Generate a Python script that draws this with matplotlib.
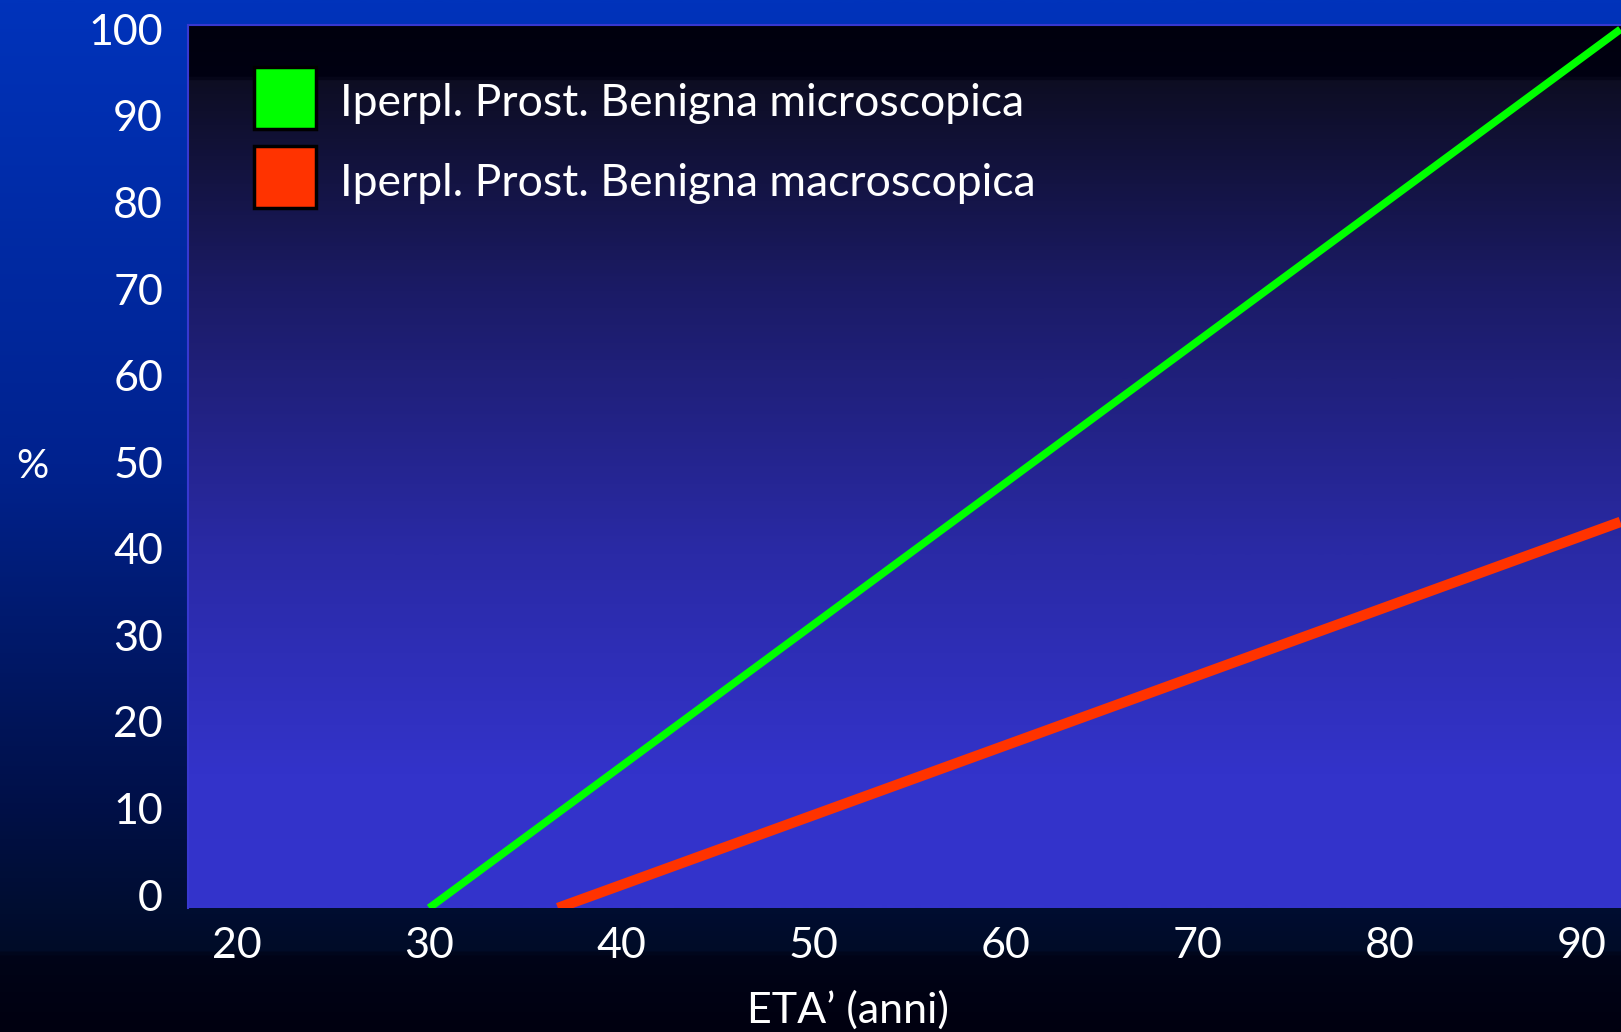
import numpy as np
import matplotlib
matplotlib.use("Agg")
import matplotlib.pyplot as plt
from matplotlib.colors import LinearSegmentedColormap
from matplotlib.patches import Rectangle

# ---- data ----
micro_age = [30.0, 92.0]
micro_pct = [-1.5, 100.0]
macro_age = [36.7, 92.0]
macro_pct = [-1.5, 43.1]
series_labels = ["Iperpl. Prost. Benigna microscopica",
                 "Iperpl. Prost. Benigna macroscopica"]
series_colors = ["#00FF00", "#FF3300"]
x_ticks = [20, 30, 40, 50, 60, 70, 80, 90]
y_ticks = [0, 10, 20, 30, 40, 50, 60, 70, 80, 90, 100]
x_label = "ETA\u2019 (anni)"
y_label = "%"

FONT = ["Lato", "DejaVu Sans"]
W, H = 1621, 1032
fig = plt.figure(figsize=(W / 100, H / 100), dpi=100)

# figure background gradient
bg = fig.add_axes([0, 0, 1, 1], zorder=-10)
bg_cmap = LinearSegmentedColormap.from_list("bg", [
    (0.0, "#0033BB"), (0.45, "#00228E"), (0.78, "#001048"),
    (0.922, "#000C28"), (0.927, "#000418"), (1.0, "#000010")])
bg.imshow(np.linspace(0, 1, 512)[:, None], aspect="auto", cmap=bg_cmap,
          extent=[0, 1, 0, 1], origin="upper")
bg.set_axis_off()

left, right, top, bottom = 188, 1621, 25, 908
ax = fig.add_axes([left / W, (H - bottom) / H, (right - left) / W, (bottom - top) / H])
ax.set_xlim(17.45, 92.03)
ax.set_ylim(-1.5, 100.5)

ax_cmap = LinearSegmentedColormap.from_list("axbg", [
    (0.0, "#00000E"), (0.058, "#000012"), (0.06, "#0D0D22"),
    (0.3, "#1B1B66"), (0.6, "#2A2AA6"), (0.85, "#3333CA"), (1.0, "#3434CC")])
ax.imshow(np.linspace(0, 1, 512)[:, None], aspect="auto", cmap=ax_cmap,
          extent=[0, 1, 0, 1], origin="upper", transform=ax.transAxes, zorder=0)

ax.plot(micro_age, micro_pct, color=series_colors[0], lw=5.5,
        solid_capstyle="butt", zorder=3)
ax.plot(macro_age, macro_pct, color=series_colors[1], lw=7.5,
        solid_capstyle="butt", zorder=3)

for s in ["right", "bottom"]:
    ax.spines[s].set_visible(False)
for s in ["left", "top"]:
    ax.spines[s].set_color("#3838D0")
    ax.spines[s].set_linewidth(1.5)

ax.set_xticks(x_ticks)
ax.set_yticks(y_ticks)
ax.set_xticklabels([str(v) for v in x_ticks])
ax.set_yticklabels([str(v) for v in y_ticks])
ax.tick_params(length=0, colors="white", labelsize=31, pad=14)
ax.tick_params(axis="y", pad=18)
for t in ax.get_xticklabels() + ax.get_yticklabels():
    t.set_family(FONT)

fig.text(848 / W, 1 - 1010 / H, x_label, color="white", fontsize=31,
         family=FONT, ha="center", va="center")
fig.text(32 / W, 1 - 466 / H, y_label, color="white", fontsize=29,
         family=FONT, ha="center", va="center")

# legend (drawn in figure pixels)
sq_left, sq_size = 254, 62
row_tops = [67, 146]
for (top_px, col, lab) in zip(row_tops, series_colors, series_labels):
    fig.patches.append(Rectangle((sq_left / W, 1 - (top_px + sq_size) / H),
                                 sq_size / W, sq_size / H, transform=fig.transFigure,
                                 facecolor=col, edgecolor="black", lw=2.5, zorder=5))
    fig.text(340 / W, 1 - (top_px + sq_size / 2 + 6) / H, lab, color="white",
             fontsize=32, family=FONT, ha="left", va="center", zorder=6)

fig.savefig("out.png", dpi=100)
